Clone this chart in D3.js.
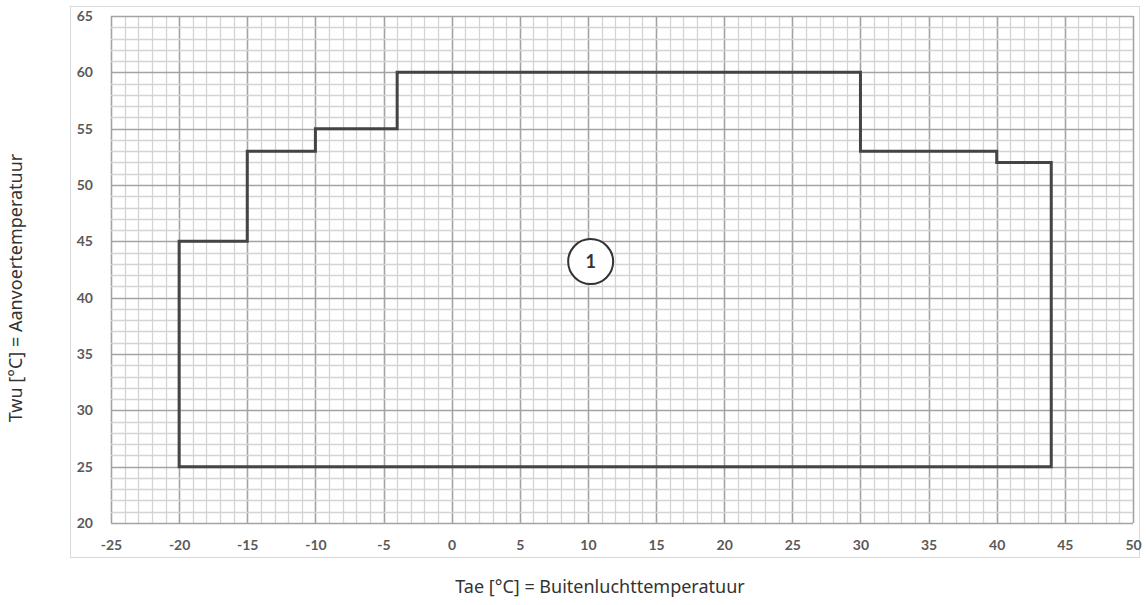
<!DOCTYPE html>
<html>
<head>
<meta charset="utf-8">
<script src="https://cdn.jsdelivr.net/npm/d3@7"></script>
<style>
  body { margin: 0; background: #fff; }
  .tick-label { font-family: Lato, "Open Sans", sans-serif; font-weight: bold; font-size: 14px; fill: #595959; }
  .axis-title { font-family: "Noto Sans", "Open Sans", sans-serif; font-size: 18px; fill: #333; }
</style>
</head>
<body>
<div id="chart"></div>
<script>
// Axis ticks
const xTicks = [-25, -20, -15, -10, -5, 0, 5, 10, 15, 20, 25, 30, 35, 40, 45, 50];
const yTicks = [20, 25, 30, 35, 40, 45, 50, 55, 60, 65];

// Operating envelope (Tae, Twu)
const envelopeTae = [-20, -20, -15, -15, -10, -10, -4, -4, 30, 30, 40, 40, 44, 44];
const envelopeTwu = [25, 45, 45, 53, 53, 55, 55, 60, 60, 53, 53, 52, 52, 25];

// Zone label
const zoneLabels = ["1"];
const zoneTae = [10.2];
const zoneTwu = [43.2];

const xTitle = "Tae [°C] = Buitenluchttemperatuur";
const yTitle = "Twu [°C] = Aanvoertemperatuur";

const W = 1146, H = 605;
const margin = {top: 16, right: 13, bottom: 82, left: 111};
const width = W - margin.left - margin.right;
const height = H - margin.top - margin.bottom;

const svg = d3.select("#chart").append("svg")
    .attr("width", W)
    .attr("height", H);

// Outer frame
svg.append("rect")
    .attr("x", 70.5).attr("y", 6.5)
    .attr("width", 1069).attr("height", 551)
    .attr("fill", "none")
    .attr("stroke", "#d9d9d9")
    .attr("stroke-width", 1);

const g = svg.append("g")
    .attr("transform", "translate(" + margin.left + "," + margin.top + ")");

const x = d3.scaleLinear().domain([-25, 50]).range([0, width]);
const y = d3.scaleLinear().domain([20, 65]).range([height, 0]);

// Grid every 1 degree, darker every 5
const xMinor = d3.range(-25, 51, 1);
const yMinor = d3.range(20, 66, 1);

g.append("g")
    .selectAll("line")
    .data(xMinor)
    .join("line")
    .attr("x1", d => Math.round(x(d)) + 0.5)
    .attr("x2", d => Math.round(x(d)) + 0.5)
    .attr("y1", 0).attr("y2", height)
    .attr("stroke", d => d % 5 === 0 ? "#a3a3a3" : "#d4d4d4")
    .attr("stroke-width", d => d % 5 === 0 ? 1.6 : 1.3);

g.append("g")
    .selectAll("line")
    .data(yMinor)
    .join("line")
    .attr("y1", d => Math.round(y(d)) + 0.5)
    .attr("y2", d => Math.round(y(d)) + 0.5)
    .attr("x1", 0).attr("x2", width)
    .attr("stroke", d => d % 5 === 0 ? "#a3a3a3" : "#d4d4d4")
    .attr("stroke-width", d => d % 5 === 0 ? 1.6 : 1.3);

// Tick labels (plain hyphen minus like the original)
const fmt = d => String(d);
const xAxis = d3.axisBottom(x).tickValues(xTicks).tickFormat(fmt).tickSize(0).tickPadding(17);
const yAxis = d3.axisLeft(y).tickValues(yTicks).tickFormat(fmt).tickSize(0).tickPadding(18);

const xa = g.append("g").attr("transform", "translate(0," + height + ")").call(xAxis);
const ya = g.append("g").call(yAxis);
[xa, ya].forEach(a => {
    a.select(".domain").remove();
    a.selectAll("text").attr("class", "tick-label").attr("font-size", null).attr("font-family", null);
});

// Envelope
const pts = envelopeTae.map((t, i) => [t, envelopeTwu[i]]);
g.append("path")
    .datum(pts)
    .attr("d", d3.line().x(d => x(d[0])).y(d => y(d[1])).curve(d3.curveLinearClosed))
    .attr("fill", "none")
    .attr("stroke", "#444")
    .attr("stroke-width", 3)
    .attr("stroke-linejoin", "miter");

// Zone label
const zone = g.selectAll(".zone")
    .data(zoneLabels)
    .join("g")
    .attr("class", "zone")
    .attr("transform", (d, i) => "translate(" + x(zoneTae[i]) + "," + y(zoneTwu[i]) + ")");
zone.append("circle")
    .attr("r", 22.5)
    .attr("fill", "#fff")
    .attr("stroke", "#333")
    .attr("stroke-width", 2);
zone.append("text")
    .attr("text-anchor", "middle")
    .attr("dy", "0.36em")
    .attr("font-family", "Lato, sans-serif")
    .attr("font-weight", "bold")
    .attr("font-size", 18)
    .attr("fill", "#333")
    .text(d => d);

// Axis titles
svg.append("text")
    .attr("class", "axis-title")
    .attr("text-anchor", "middle")
    .attr("x", 600)
    .attr("y", 593)
    .text(xTitle);

svg.append("text")
    .attr("class", "axis-title")
    .attr("text-anchor", "middle")
    .attr("transform", "translate(22,288) rotate(-90)")
    .text(yTitle);
</script>
</body>
</html>
